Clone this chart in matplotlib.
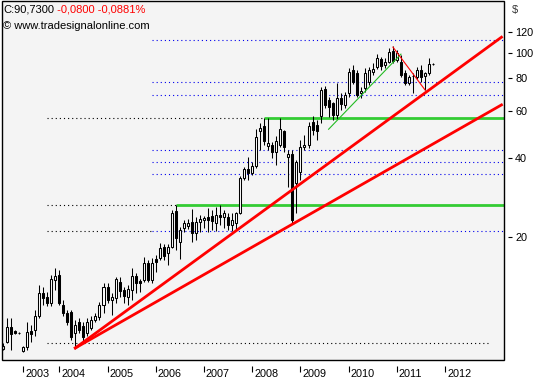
import matplotlib.pyplot as plt
import matplotlib.transforms as mtransforms
from matplotlib.patches import Rectangle
from matplotlib.ticker import NullLocator
import numpy as np
import pandas as pd

plt.rcParams['font.family'] = ['Liberation Sans', 'DejaVu Sans']

# monthly candles, Nov 2002 .. Oct 2011
months = pd.date_range('2002-11-01', periods=108, freq='MS')
opens = [7.52, 7.99, 9.11, 8.80, 8.64, 7.39, 7.65, 8.80, 8.87, 10.02, 12.26, 11.84,
         11.23, 13.73, 14.35, 11.04, 10.29, 10.39, 8.64, 9.51, 9.19, 8.64, 9.03, 9.68,
         9.94, 11.04, 12.92, 11.53, 11.73, 13.49, 12.58, 11.84, 12.58, 14.22, 13.61, 13.73,
         15.94, 13.73, 16.50, 16.65, 18.33, 17.39, 18.33, 25.10, 19.14, 21.64, 22.02, 22.80,
         20.71, 22.80, 23.20, 23.82, 24.03, 22.60, 24.24, 23.82, 23.82, 22.21, 22.60, 24.67,
         33.50, 36.24, 35.00, 37.20, 50.52, 52.78, 44.31, 44.70, 42.05, 44.70, 50.52, 40.25,
         41.32, 32.07, 35.30, 43.92, 44.70, 54.64, 53.24, 57.59, 72.93, 66.24, 64.53, 58.10,
         67.41, 63.41, 70.43, 86.10, 83.88, 70.43, 73.57, 77.52, 84.60, 88.37, 94.79, 89.94,
         92.32, 101.6, 93.96, 92.32, 83.88, 76.85, 81.71, 80.99, 86.10, 81.71, 83.88, 90.90]
highs = [7.92, 9.85, 9.85, 8.87, 8.72, 7.71, 9.51, 9.27, 10.57, 13.15, 12.92, 12.36,
         14.35, 15.25, 14.99, 11.53, 10.57, 10.57, 9.68, 9.85, 9.51, 9.85, 10.02, 10.29,
         11.33, 13.38, 13.38, 12.26, 14.10, 14.10, 12.92, 13.15, 15.25, 14.60, 13.85, 16.79,
         16.36, 16.65, 17.09, 18.98, 18.81, 18.81, 25.32, 26.45, 21.82, 23.20, 23.40, 25.54,
         23.82, 24.24, 24.03, 25.77, 25.32, 25.99, 26.45, 25.32, 24.67, 24.67, 24.89, 34.09,
         36.88, 40.25, 38.50, 51.41, 54.18, 56.60, 56.60, 45.88, 48.36, 56.60, 50.96, 42.79,
         42.79, 39.20, 46.69, 48.78, 54.64, 57.59, 55.61, 74.21, 74.86, 68.00, 65.09, 76.85,
         70.43, 71.03, 87.62, 89.94, 86.10, 74.21, 87.62, 88.37, 91.53, 99.02, 96.45, 95.62,
         104.3, 106.2, 102.5, 98.16, 86.10, 82.42, 83.88, 88.37, 89.94, 84.60, 95.62, 91.80]
lows = [7.45, 7.92, 7.45, 8.56, 8.56, 7.32, 7.45, 7.99, 8.42, 9.85, 11.04, 10.94,
        10.94, 12.58, 11.04, 10.02, 9.27, 8.13, 7.58, 8.64, 7.99, 8.42, 8.87, 9.51,
        9.68, 10.29, 11.23, 10.11, 11.23, 11.84, 11.23, 11.04, 11.53, 12.26, 12.36, 13.49,
        13.49, 13.38, 14.73, 16.36, 16.36, 15.66, 18.17, 17.85, 16.50, 20.89, 21.45, 19.14,
        19.48, 20.89, 21.64, 20.89, 21.26, 21.07, 22.21, 21.64, 21.26, 21.07, 21.26, 24.45,
        32.92, 32.92, 34.39, 36.56, 42.79, 44.70, 42.79, 39.89, 37.53, 43.92, 42.05, 30.96,
        22.60, 24.67, 32.92, 42.79, 43.55, 48.78, 46.69, 54.18, 61.78, 57.09, 55.61, 56.10,
        60.70, 61.78, 68.00, 76.18, 68.00, 67.41, 71.03, 75.52, 82.42, 86.86, 86.10, 87.62,
        91.53, 91.53, 92.32, 80.99, 75.52, 75.52, 70.43, 79.60, 77.52, 72.29, 82.42, 89.60]
closes = [7.71, 9.11, 8.56, 8.64, 8.62, 7.65, 8.72, 8.56, 10.02, 12.26, 11.73, 11.23,
          13.85, 14.22, 11.23, 10.29, 9.51, 8.34, 9.27, 8.87, 8.34, 9.51, 9.68, 10.02,
          11.04, 12.92, 11.53, 11.84, 13.85, 12.47, 11.94, 12.69, 14.22, 13.38, 13.38, 15.94,
          13.73, 15.94, 16.08, 18.17, 16.94, 18.33, 24.67, 19.82, 21.26, 22.60, 22.60, 20.71,
          22.80, 23.40, 23.61, 23.20, 23.00, 24.24, 23.82, 24.67, 22.21, 23.20, 24.67, 33.50,
          36.24, 35.00, 37.20, 47.93, 51.86, 46.28, 45.49, 42.05, 46.28, 51.41, 43.92, 41.32,
          23.20, 38.52, 43.92, 44.70, 52.78, 50.96, 50.52, 72.29, 63.41, 62.31, 58.10, 67.41,
          63.97, 69.20, 84.60, 77.52, 69.20, 71.67, 83.88, 86.10, 86.86, 95.62, 89.16, 92.32,
          100.7, 93.14, 99.90, 82.42, 76.85, 80.99, 81.35, 86.10, 80.99, 83.88, 90.81, 90.73]

year_labels = ['2003', '2004', '2005', '2006', '2007', '2008', '2009', '2010', '2011', '2012']
year_dates = ['2003-04', '2004-01', '2005-01', '2006-01', '2007-01', '2008-01',
              '2009-01', '2010-01', '2011-01', '2012-01']
price_ticks = [20, 40, 60, 80, 100, 120]

# drawn studies
blue_levels = [111.9, 77.5, 69.2, 42.8, 38.5, 34.7, 21.1]
green_levels = [56.6, 26.45]
green_starts = ['2008-04', '2006-06']
base_level = 7.92
red_trend_start = ('2004-05', 7.58)
red_trend_ends = [('2013-03', 114.7), ('2013-03', 63.46)]
green_trend = [('2009-08', 51.3), ('2011-02', 98.9)]
red_short = [('2010-12', 105.2), ('2011-08', 72.29)]
dotted_start = '2003-10'
blue_start = '2005-12'
base_end = '2012-12'


def mpos(d):
    p = pd.Timestamp(d)
    return (p.year - months[0].year) * 12 + p.month - months[0].month


fig = plt.figure(figsize=(5.33, 3.80), dpi=100)
ax = fig.add_axes([2 / 533, 20 / 380, 502 / 533, 359 / 380])
ax.set_facecolor('#f4f4f4')
ax.set_yscale('log')
ax.set_ylim(6.823, 157.4)
ax.set_xlim(-0.25, 124.63)

x = np.arange(len(months))
o = np.array(opens)
h = np.array(highs)
l = np.array(lows)
c = np.array(closes)
up = c >= o

xend = 126
dot = (0, (1, 2.7))
for lv in blue_levels:
    ax.plot([mpos(blue_start), xend], [lv, lv], color='#0000ee', lw=0.8, ls=dot, zorder=1)
ax.plot([mpos(dotted_start), mpos(blue_start)], [21.1, 21.1], color='black', lw=0.8, ls=dot, zorder=1)
for lv, st in zip(green_levels, green_starts):
    ax.plot([mpos(dotted_start), mpos(st)], [lv, lv], color='black', lw=0.8, ls=dot, zorder=1)
    ax.plot([mpos(st), xend], [lv, lv], color='#33cc33', lw=2, zorder=2, solid_capstyle='butt')
ax.plot([mpos(dotted_start), mpos(base_end)], [base_level, base_level], color='black', lw=0.8, ls=dot, zorder=1)

ax.vlines(x, l, h, color='black', lw=0.75, zorder=3)
ax.bar(x[up], (c - o)[up], bottom=o[up], width=0.5, facecolor='white',
       edgecolor='black', linewidth=0.75, zorder=4)
ax.bar(x[~up], (o - c)[~up], bottom=c[~up], width=0.5, facecolor='black',
       edgecolor='black', linewidth=0.75, zorder=4)

for d, v in red_trend_ends:
    ax.plot([mpos(red_trend_start[0]), mpos(d)], [red_trend_start[1], v],
            color='#ff0000', lw=2, zorder=5)
ax.plot([mpos(d) for d, v in green_trend], [v for d, v in green_trend],
        color='#22bb22', lw=0.8, zorder=5)
ax.plot([mpos(d) for d, v in red_short], [v for d, v in red_short],
        color='#ff0000', lw=0.8, zorder=5)

for s in ax.spines.values():
    s.set_visible(False)
ax.spines['right'].set_position(('outward', 3))
ax.spines['bottom'].set_position(('outward', 4))
ax.add_patch(Rectangle((0, 0), 1, 1, transform=ax.transAxes, fill=False,
                       edgecolor='black', lw=1, zorder=10, clip_on=False))

ax.yaxis.tick_right()
ax.set_yticks(price_ticks)
ax.set_yticklabels([str(t) for t in price_ticks])
ax.yaxis.set_minor_locator(NullLocator())
ax.tick_params(axis='y', which='both', length=3, width=0.8, pad=2, labelsize=7.8)

ax.set_xticks([mpos(d) for d in year_dates])
ax.set_xticklabels(year_labels)
ax.tick_params(axis='x', length=4, width=0.8, pad=0, labelsize=7.8)
shift = mtransforms.ScaledTranslation(2 / 100, 2 / 100, fig.dpi_scale_trans)
for lab in ax.get_xticklabels():
    lab.set_ha('left')
    lab.set_transform(lab.get_transform() + shift)

fig.text(512 / 533, 1 - 10 / 380, '$', ha='left', va='center', fontsize=8, color='#333333')
t1 = fig.text(3 / 533, 1 - 9 / 380, 'C:90,7300', ha='left', va='center', fontsize=8)
ax.annotate(' -0,0800 -0,0881%', xy=(1, 0.5), xycoords=t1, ha='left', va='center',
            fontsize=8, color='#ff0000')
fig.text(3 / 533, 1 - 26 / 380, '\u00a9 www.tradesignalonline.com', ha='left', va='center', fontsize=8)

fig.savefig('out.png', dpi=100)
